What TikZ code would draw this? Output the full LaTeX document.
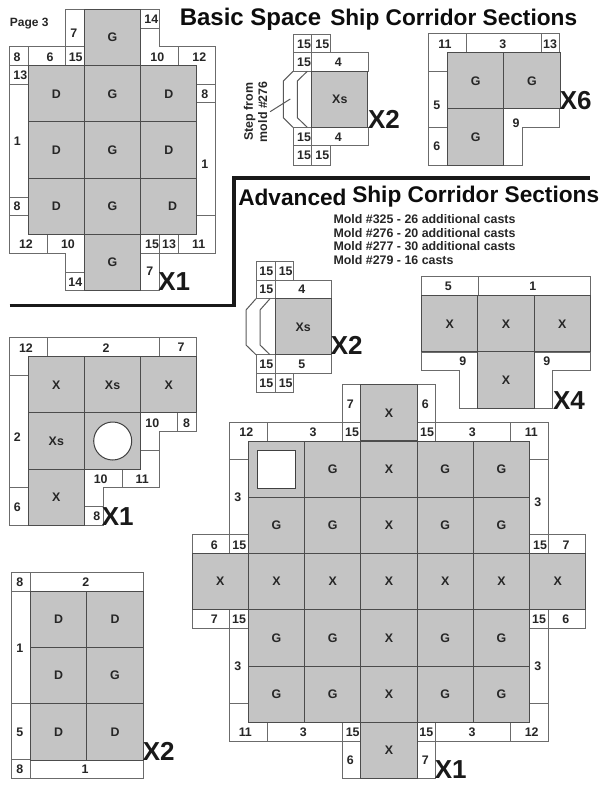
\documentclass[tikz,border=0pt]{standalone}
\usepackage{fontspec}
\setmainfont{Liberation Sans}
\tikzset{
	wall/.style={draw=black!58, line width=0.75pt, fill=white},
	tile/.style={draw=black!70, line width=0.75pt, fill=black!23, anchor=north west, minimum size=42.19pt, inner sep=0pt, outer sep=0pt, text=black!85, font=\fontsize{9.3}{11}\selectfont\bfseries},
	lbl/.style={inner sep=0pt, text=black!85, font=\fontsize{9.3}{11}\selectfont\bfseries},
	bignum/.style={inner sep=0pt, text=black!90, font=\fontsize{19.5}{22}\selectfont\bfseries},
	headline/.style={inner sep=0pt, anchor=west, text=black!95, font=\fontsize{17}{20}\selectfont\bfseries},
	stepline/.style={draw=black!65, line width=0.75pt},
}
\begin{document}
\begin{tikzpicture}[x=0.75pt, y=-0.75pt]
	\useasboundingbox (0, 0) rectangle (600, 788);

	%%%%% HEADINGS %%%%%
	\node[headline, font=\fontsize{18}{20}\selectfont\bfseries] (basic) at (179.5, 19.5) {Basic Space};
	\node[headline] (basicship) at (330, 19.5) {Ship Corridor Sections};
	\node[headline] (advanced) at (238, 197) {Advanced};
	\node[headline] (advship) at (352, 197) {Ship Corridor Sections};
	\node[lbl, anchor=west, align=left, font=\fontsize{9.3}{10.4}\selectfont\bfseries] (molds) at (333.3, 239.5) {Mold \#325 - 26 additional casts\\Mold \#276 - 20 additional casts\\Mold \#277 - 30 additional casts\\Mold \#279 - 16 casts};
	\node[lbl, font=\fontsize{9}{11}\selectfont\bfseries] (page) at (29.3, 24) {Page 3};
	\draw[line width=2.4pt, color=black!90] (9.5, 305.5) -- (234, 305.5) -- (234, 178) -- (590, 178);

	%%%%% BASIC X1 %%%%%
	\draw[wall] (65.5, 9.5) rectangle (84.5, 47)
		(140.5, 9.5) rectangle (159.5, 28.5)
		(140.5, 28.5) -- (159.5, 28.5) -- (159.5, 47) -- (178, 47) -- (178, 66) -- (140.5, 66) -- cycle
		(178, 47) -- (215.5, 47) -- (215.5, 84.5) -- (196.7, 84.5) -- (196.7, 66) -- (178, 66) -- cycle
		(9.5, 47) rectangle (28.5, 66)
		(28.5, 47) rectangle (65.5, 66)
		(65.5, 47) rectangle (84.5, 66)
		(196.7, 84.5) rectangle (215.5, 103)
		(196.7, 103) rectangle (215.5, 215.5)
		(9.5, 66) rectangle (28.5, 84.5)
		(9.5, 84.5) rectangle (28.5, 197)
		(9.5, 197) rectangle (28.5, 215.5)
		(9.5, 215.5) -- (28.5, 215.5) -- (28.5, 234.5) -- (47, 234.5) -- (47, 253) -- (9.5, 253) -- cycle
		(47, 234.5) -- (84.5, 234.5) -- (84.5, 272) -- (65.5, 272) -- (65.5, 253) -- (47, 253) -- cycle
		(65.5, 272) rectangle (84.5, 290.5)
		(140.5, 234.5) rectangle (159.5, 253)
		(159.5, 234.5) rectangle (178, 253)
		(196.7, 215.5) -- (215.5, 215.5) -- (215.5, 253) -- (178, 253) -- (178, 234.5) -- (196.7, 234.5) -- cycle
		(140.5, 253) rectangle (159.5, 290.5);
	\foreach \x/\y/\t [count=\i] in {84.4/9.5/G, 28.2/65.75/D, 84.4/65.75/G, 140.6/65.75/D, 28.2/122/D, 84.4/122/G, 140.6/122/D, 28.2/178.25/D, 84.4/178.25/G, 84.4/234.5/G}
		\node[tile] (a\i) at (\x, \y) {\t};
	\node[tile] (a11) at (140.6, 178.25) {};
	\node[lbl] (a12) at (172.7, 206.5) {D};
	\foreach \x/\y/\t [count=\i] in {73.7/33.3/7, 151.3/19.7/14, 17/57/8, 50/57/6, 75.7/57/15, 157.3/57/10, 199.3/57/12, 20.3/75.7/13, 204.7/94.3/8, 17.3/141/1, 204.7/164/1, 17/206.7/8, 26/244.3/12, 68/244.3/10, 152/244.3/15, 169/244.3/13, 198.7/244.3/11, 75.3/282/14, 149.7/271.7/7}
		\node[lbl] (al\i) at (\x, \y) {\t};
	\node[bignum] (acount) at (174.3, 281.7) {X1};

	%%%%% BASIC X2 %%%%%
	\draw[wall] (293, 34.3) rectangle (311.7, 52.3)
		(311.7, 34.3) rectangle (330.7, 52.3)
		(293, 52.3) rectangle (311.7, 71.3)
		(311.7, 52.3) rectangle (368, 71.3)
		(293, 127.3) rectangle (311.7, 146)
		(311.7, 127.3) rectangle (368, 146)
		(293, 146) rectangle (311.7, 165)
		(311.7, 146) rectangle (330.7, 165);
	\draw[stepline] (293, 71.3) -- (283.3, 81) -- (283.3, 117.7) -- (293, 127.3)
		(307.3, 71.3) -- (297.3, 81) -- (297.3, 117.7) -- (307.3, 127.3);
	\node[tile] (b1) at (311.7, 71.3) {Xs};
	\foreach \x/\y/\t [count=\i] in {304/44.3/15, 322.3/44.3/15, 304/62.3/15, 338.3/62.3/4, 304/137.3/15, 338.3/137.3/4, 304/155.7/15, 322.3/155.7/15}
		\node[lbl] (bl\i) at (\x, \y) {\t};
	\node[bignum] (bcount) at (384, 119.3) {X2};
	\node[lbl, rotate=90, align=center, inner sep=2pt, font=\fontsize{9.3}{10.7}\selectfont\bfseries] (stepnote) at (255.5, 111.7) {Step from\\mold \#276};
	\coordinate (stepend) at (290.3, 99);
	\draw[stepline] (stepnote.south) -- (stepend);

	%%%%% BASIC X6 %%%%%
	\draw[wall] (428.7, 33.7) -- (466, 33.7) -- (466, 52.7) -- (447.7, 52.7) -- (447.7, 71.3) -- (428.7, 71.3) -- cycle
		(466, 33.7) rectangle (541, 52.7)
		(541, 33.7) rectangle (559.7, 52.7)
		(428.7, 71.3) rectangle (447.7, 127.3)
		(428.7, 127.3) rectangle (447.7, 165)
		(503.7, 108.7) -- (559.7, 108.7) -- (559.7, 127.5) -- (522.3, 127.5) -- (522.3, 165) -- (503.7, 165) -- cycle;
	\foreach \x/\y/\t [count=\i] in {447.6/52.7/G, 503.85/52.7/G, 447.6/108.95/G}
		\node[tile] (c\i) at (\x, \y) {\t};
	\foreach \x/\y/\t [count=\i] in {445/44.3/11, 502.7/44.3/3, 550/44.3/13, 436.7/105/5, 436.7/146.7/6, 516/123.3/9}
		\node[lbl] (cl\i) at (\x, \y) {\t};
	\node[bignum] (ccount) at (575.7, 101) {X6};

	%%%%% ADVANCED X2 %%%%%
	\draw[wall] (256, 261) rectangle (275, 280)
		(275, 261) rectangle (293.7, 280)
		(256, 280) rectangle (275, 298.7)
		(275, 280) rectangle (331, 298.7)
		(256, 354.7) rectangle (275, 373.7)
		(275, 354.7) rectangle (331, 373.7)
		(256, 373.7) rectangle (275, 392.3)
		(275, 373.7) rectangle (293.7, 392.3);
	\draw[stepline] (256, 298.7) -- (246, 310) -- (246, 345) -- (256, 354.7)
		(270, 298.7) -- (260, 310) -- (260, 345) -- (270, 354.7);
	\node[tile] (d1) at (275, 298.7) {Xs};
	\foreach \x/\y/\t [count=\i] in {266.3/271/15, 285.7/271/15, 266.3/289.7/15, 301.7/289.7/4, 266.3/364.3/15, 301.7/364.3/5, 266.3/383.3/15, 285.7/383.3/15}
		\node[lbl] (dl\i) at (\x, \y) {\t};
	\node[bignum] (dcount) at (346.7, 345.7) {X2};

	%%%%% ADVANCED X4 %%%%%
	\draw[wall] (421.7, 276.7) rectangle (478, 295.7)
		(478, 276.7) rectangle (590.3, 295.7)
		(421.7, 352) -- (478, 352) -- (478, 408) -- (459.3, 408) -- (459.3, 370.7) -- (421.7, 370.7) -- cycle
		(534, 352) -- (590.3, 352) -- (590.3, 370.7) -- (552.7, 370.7) -- (552.7, 408) -- (534, 408) -- cycle;
	\foreach \x/\y/\t [count=\i] in {421.6/295.7/X, 477.85/295.7/X, 534.1/295.7/X, 477.85/351.95/X}
		\node[tile] (e\i) at (\x, \y) {\t};
	\foreach \x/\y/\t [count=\i] in {448.3/286.3/5, 532.7/286.3/1, 462.7/361.7/9, 546.7/361.7/9}
		\node[lbl] (el\i) at (\x, \y) {\t};
	\node[bignum] (ecount) at (569, 401) {X4};

	%%%%% ADVANCED X1 WITH HOLE %%%%%
	\draw[wall] (9.3, 337.7) -- (47, 337.7) -- (47, 356.7) -- (28.3, 356.7) -- (28.3, 375) -- (9.3, 375) -- cycle
		(47, 337.7) rectangle (159.5, 356.7)
		(159.5, 337.7) rectangle (196.5, 356.7)
		(9.3, 375) rectangle (28.3, 487.7)
		(9.3, 487.7) rectangle (28.3, 525)
		(140.3, 412.7) -- (177.7, 412.7) -- (177.7, 431.7) -- (159.5, 431.7) -- (159.5, 450.3) -- (140.3, 450.3) -- cycle
		(177.7, 412.7) rectangle (196.5, 431.7)
		(140.3, 450.3) -- (159.5, 450.3) -- (159.5, 487.7) -- (122, 487.7) -- (122, 469) -- (140.3, 469) -- cycle
		(84.3, 469) -- (122, 469) -- (122, 487.7) -- (103.3, 487.7) -- (103.3, 506.7) -- (84.3, 506.7) -- cycle
		(84.3, 506.7) rectangle (103.3, 525);
	\foreach \x/\y/\t [count=\i] in {28.2/356.7/X, 84.45/356.7/Xs, 140.7/356.7/X, 28.2/412.95/Xs, 84.45/412.95/{}, 28.2/469.2/X}
		\node[tile] (f\i) at (\x, \y) {\t};
	\draw[wall, draw=black!75] (112.7, 441) circle (19);
	\foreach \x/\y/\t [count=\i] in {26/347.7/12, 106/347.7/2, 181/347.7/7, 17.3/436.7/2, 152.3/423/10, 186.5/423/8, 100.7/479/10, 142.3/479/11, 17.3/507.3/6, 96.7/516.7/8}
		\node[lbl] (fl\i) at (\x, \y) {\t};
	\node[bignum] (fcount) at (117.7, 516.7) {X1};

	%%%%% BASIC SECOND X2 %%%%%
	\draw[wall] (11.7, 572.3) rectangle (30.7, 591.3)
		(30.7, 572.3) rectangle (143, 591.3)
		(11.7, 591.3) rectangle (30.7, 703.7)
		(11.7, 703.7) rectangle (30.7, 759.7)
		(11.7, 759.7) rectangle (30.7, 778.3)
		(30.7, 759.7) rectangle (143, 778.3);
	\foreach \x/\y/\t [count=\i] in {30.6/591.3/D, 86.85/591.3/D, 30.6/647.55/D, 86.85/647.55/G, 30.6/703.8/D, 86.85/703.8/D}
		\node[tile] (g\i) at (\x, \y) {\t};
	\foreach \x/\y/\t [count=\i] in {19.7/582.3/8, 85.7/582.3/2, 19.7/648/1, 19.7/732.7/5, 19.7/769.3/8, 85/769.3/1}
		\node[lbl] (gl\i) at (\x, \y) {\t};
	\node[bignum] (gcount) at (158.7, 751.7) {X2};

	%%%%% ADVANCED BIG X1 %%%%%
	\draw[wall] (342.3, 384.3) rectangle (360.7, 422.3)
		(342.3, 422.3) rectangle (360.7, 441)
		(267.3, 422.3) rectangle (342.3, 441)
		(229.7, 422.3) -- (267.3, 422.3) -- (267.3, 441) -- (248.3, 441) -- (248.3, 459.7) -- (229.7, 459.7) -- cycle
		(229.7, 459.7) rectangle (248.3, 534.7)
		(229.7, 534.7) rectangle (248.3, 553.3)
		(192.3, 534.7) rectangle (229.7, 553.3)
		(417.3, 384.3) rectangle (435.7, 422.3)
		(417.3, 422.3) rectangle (435.7, 441)
		(435.7, 422.3) rectangle (510.7, 441)
		(510.7, 422.3) -- (548, 422.3) -- (548, 459.7) -- (529.3, 459.7) -- (529.3, 441) -- (510.7, 441) -- cycle
		(529.3, 459.7) rectangle (548, 534.7)
		(529.3, 534.7) rectangle (548, 553.3)
		(548, 534.7) rectangle (585.7, 553.3)
		(192.3, 609.7) rectangle (229.7, 628.3)
		(229.7, 609.7) rectangle (248.3, 628.3)
		(229.7, 628.3) rectangle (248.3, 703.3)
		(229.7, 703.3) -- (248.3, 703.3) -- (248.3, 722.3) -- (267.3, 722.3) -- (267.3, 741) -- (229.7, 741) -- cycle
		(267.3, 722.3) rectangle (342.3, 741)
		(342.3, 722.3) rectangle (360.7, 741)
		(342.3, 741) rectangle (360.7, 778.3)
		(529.3, 609.7) rectangle (548, 628.3)
		(548, 609.7) rectangle (585.7, 628.3)
		(529.3, 628.3) rectangle (548, 703.3)
		(529.3, 703.3) -- (548, 703.3) -- (548, 741) -- (510.7, 741) -- (510.7, 722.3) -- (529.3, 722.3) -- cycle
		(435.7, 722.3) rectangle (510.7, 741)
		(417.3, 722.3) rectangle (435.7, 741)
		(417.3, 741) rectangle (435.7, 778.3);
	\foreach \x/\y/\t [count=\i] in {360.8/384.7/X, 248.3/441/{}, 304.55/441/G, 360.8/441/X, 417.05/441/G, 473.3/441/G, 248.3/497.25/G, 304.55/497.25/G, 360.8/497.25/X, 417.05/497.25/G, 473.3/497.25/G, 192.05/553.5/X, 248.3/553.5/X, 304.55/553.5/X, 360.8/553.5/X, 417.05/553.5/X, 473.3/553.5/X, 529.55/553.5/X, 248.3/609.75/G, 304.55/609.75/G, 360.8/609.75/X, 417.05/609.75/G, 473.3/609.75/G, 248.3/666/G, 304.55/666/G, 360.8/666/X, 417.05/666/G, 473.3/666/G, 360.8/722.25/X}
		\node[tile] (h\i) at (\x, \y) {\t};
	\draw[wall, draw=black!75, line width=1pt] (257.7, 450.3) rectangle (295.7, 488.3);
	\foreach \x/\y/\t [count=\i] in {350.3/404/7, 425.3/404/6, 246.3/432.3/12, 313/432.3/3, 352/432.3/15, 427/432.3/15, 472.3/432.3/3, 531.3/432.3/11, 237.7/497.3/3, 537.7/502.7/3, 214.3/545/6, 239.3/545/15, 540/545/15, 566/545/7, 214.3/619.7/7, 239/619.7/15, 539/619.7/15, 565.7/619.7/6, 237.7/666.3/3, 537.7/666.3/3, 245.3/732.3/11, 303.3/732.3/3, 352.7/732.3/15, 426.3/732.3/15, 472/732.3/3, 531.7/732.3/12, 350.3/760/6, 425.3/760/7}
		\node[lbl] (hl\i) at (\x, \y) {\t};
	\node[bignum] (hcount) at (450.7, 769.3) {X1};
\end{tikzpicture}
\end{document}
